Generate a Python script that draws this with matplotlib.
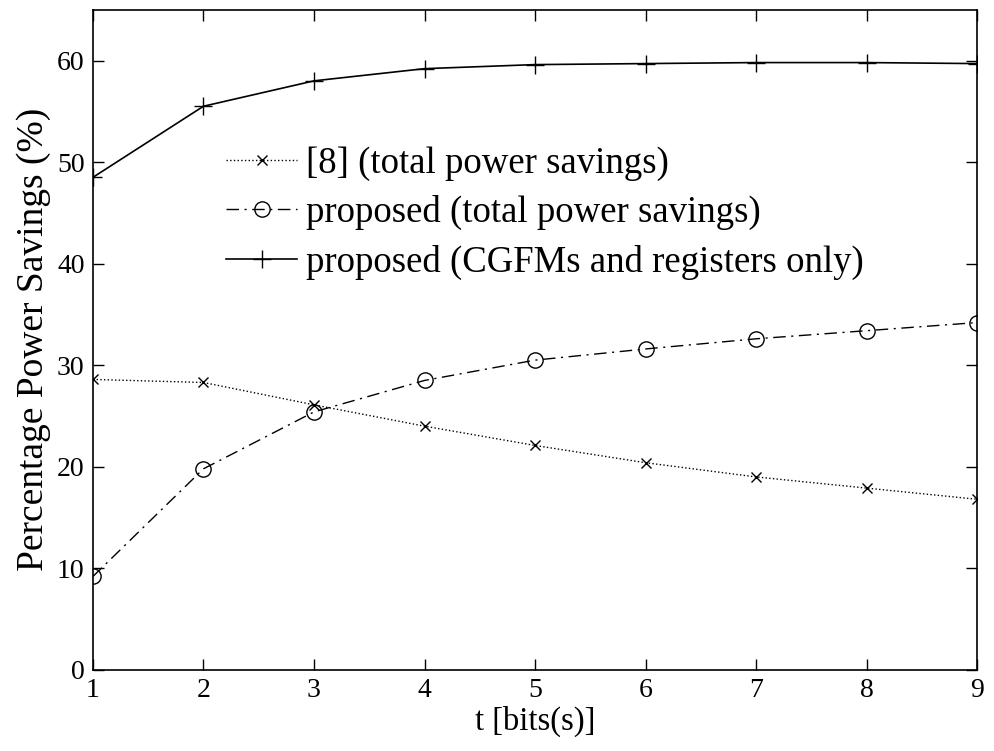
import matplotlib
matplotlib.use("Agg")
import matplotlib.pyplot as plt

t_bits = [1, 2, 3, 4, 5, 6, 7, 8, 9]
ref8_total = [28.6, 28.3, 26.1, 24.0, 22.1, 20.4, 19.0, 17.9, 16.8]
proposed_total = [9.2, 19.8, 25.4, 28.5, 30.5, 31.6, 32.6, 33.4, 34.2]
proposed_cgfm = [48.5, 55.5, 58.0, 59.2, 59.6, 59.7, 59.8, 59.8, 59.7]

plt.rcParams['font.family'] = ['Liberation Serif', 'DejaVu Serif']
plt.rcParams['mathtext.fontset'] = 'stix'

fig = plt.figure(figsize=(9.94, 7.51), dpi=100)
ax = fig.add_axes([0.0935, 0.108, 0.8895, 0.879])

ax.plot(t_bits, ref8_total, color='black', linestyle=':', linewidth=1.0,
        marker='x', markersize=7, markeredgewidth=1.0,
        label='[8] (total power savings)')
ax.plot(t_bits, proposed_total, color='black', linestyle=(0, (9, 4, 1.5, 4)), linewidth=1.0,
        marker='o', markersize=11, markerfacecolor='none', markeredgewidth=1.0,
        label='proposed (total power savings)')
ax.plot(t_bits, proposed_cgfm, color='black', linestyle='-', linewidth=1.2,
        marker='+', markersize=13, markeredgewidth=1.0,
        label='proposed (CGFMs and registers only)')

ax.set_xlim(1, 9)
ax.set_ylim(0, 65)
ax.set_xticks(t_bits)
ax.set_yticks([0, 10, 20, 30, 40, 50, 60])
ax.tick_params(direction='in', length=8, width=1.0, top=True, right=True,
               labelsize=20, pad=6)
for s in ax.spines.values():
    s.set_linewidth(1.2)

ax.set_xlabel('t [bits(s)]', fontsize=23.5, labelpad=2)
ax.set_ylabel('Percentage Power Savings (%)', fontsize=27, labelpad=4)

ax.legend(loc='upper left', bbox_to_anchor=(0.1505, 0.7925), frameon=False,
          fontsize=26.5, handlelength=1.93, handletextpad=0.25, labelspacing=0.38,
          borderaxespad=0, borderpad=0)

fig.savefig('out.png', dpi=100)
